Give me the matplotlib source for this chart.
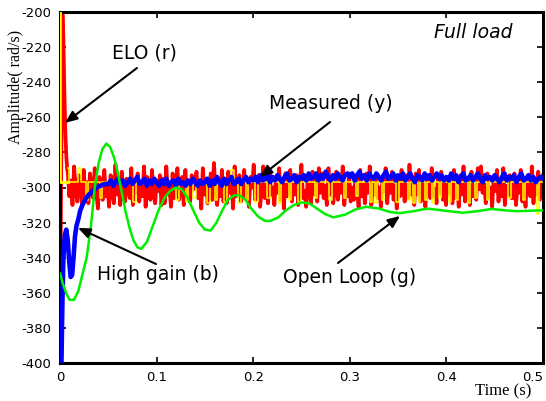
import numpy as np
import matplotlib
matplotlib.use("Agg")
import matplotlib.pyplot as plt

plt.rcParams['axes.unicode_minus'] = False

# ELO output (r): start transient, then noisy samples on a uniform grid
red_head_t = [0.0, 0.0008, 0.0025, 0.0035, 0.0045, 0.0055, 0.0065, 0.0075]
red_head_v = [-400, -320, -200, -215, -245, -268, -282, -290]
red_v = [
    -291, -305, -296, -310, -288, -302, -308, -293, -299, -311, -290, -304, -297, -309, -292, -301, -306, -289, -303, -312,
    -294, -300, -307, -290, -305, -298, -311, -293, -302, -309, -287, -304, -296, -310, -291, -303, -308, -295, -300, -306,
    -289, -310, -297, -303, -292, -308, -299, -305, -288, -311, -294, -301, -307, -290, -304, -309, -296, -302, -293, -310,
    -295, -309, -288, -304, -300, -311, -292, -306, -298, -289, -307, -302, -294, -310, -290, -305, -297, -308, -293, -301,
    -300, -291, -306, -298, -312, -289, -304, -295, -309, -301, -292, -307, -286, -303, -310, -297, -305, -290, -308, -299,
    -309, -291, -303, -297, -312, -288, -305, -299, -293, -308, -302, -290, -306, -296, -311, -294, -300, -287, -307, -303,
    -293, -311, -302, -288, -306, -296, -309, -291, -304, -300, -310, -294, -303, -289, -307, -298, -312, -292, -305, -301,
    -290, -308, -297, -304, -293, -310, -299, -287, -306, -302, -311, -295, -300, -309, -291, -304, -296, -308, -289, -303,
    -292, -306, -299, -310, -289, -304, -296, -309, -301, -291, -307, -295, -303, -288, -310, -298, -305, -292, -308, -300,
    -307, -294, -301, -311, -290, -305, -298, -309, -292, -303, -288, -310, -297, -304, -293, -306, -300, -311, -295, -302,
    -289, -309, -296, -303, -291, -307, -299, -312, -294, -305, -290, -301, -308, -293, -306, -287, -304, -298, -310, -292,
    -304, -290, -308, -296, -302, -311, -293, -299, -306, -289, -305, -301, -309, -294, -303, -291, -307, -297, -310, -295,
    -303, -297, -309, -290, -306, -300, -311, -293, -304, -288, -308, -295, -302, -310, -291, -305, -299, -307, -289, -301,
    -288, -303, -297, -309, -292, -306, -300, -311, -294, -302, -290, -308, -296, -305, -289, -310, -299, -304, -293, -306,
    -306, -292, -310, -298, -303, -290, -308, -296, -311, -294, -301, -305, -288, -309, -297, -304, -291, -307, -300, -293,
]

# reference (yellow): flat level with short pulses
yellow_head_t = [0.0, 0.0, 0.008]
yellow_head_v = [-200, -297, -297]
yellow_v = [
    -289, -297, -297, -297, -297, -289, -297, -297, -307, -297, -297, -297, -297, -297, -306, -297, -297, -297, -297, -297,
    -297, -297, -297, -297, -297, -297, -297, -297, -308, -297, -297, -297, -297, -297, -297, -297, -297, -297, -297, -297,
    -297, -297, -297, -297, -297, -297, -307, -297, -297, -297, -308, -297, -297, -306, -297, -297, -297, -297, -297, -309,
    -297, -297, -307, -297, -297, -297, -308, -297, -297, -290, -297, -297, -309, -297, -297, -307, -297, -297, -297, -308,
    -297, -297, -297, -297, -306, -297, -297, -297, -297, -309, -297, -297, -297, -307, -297, -297, -297, -308, -297, -297,
    -297, -297, -297, -297, -306, -297, -297, -297, -297, -297, -307, -297, -297, -297, -297, -297, -306, -297, -297, -297,
    -297, -305, -297, -297, -297, -297, -297, -308, -297, -309, -297, -297, -307, -297, -297, -297, -297, -297, -308, -297,
    -297, -297, -297, -307, -297, -309, -297, -308, -297, -297, -307, -297, -297, -309, -297, -297, -306, -297, -297, -297,
    -308, -297, -297, -307, -297, -297, -297, -297, -309, -297, -297, -306, -297, -297, -297, -297, -307, -297, -297, -297,
    -297, -297, -297, -297, -297, -306, -297, -297, -297, -297, -297, -307, -297, -297, -297, -297, -297, -315, -297, -297,
]

# measured with high gain (blue)
blue_head_t = [0.0, 0.0015, 0.0025, 0.0035, 0.005, 0.0065, 0.008, 0.0095, 0.011, 0.0125, 0.014, 0.0155,
               0.017, 0.019, 0.021, 0.024, 0.027, 0.030, 0.034, 0.038, 0.042, 0.046]
blue_head_v = [-400, -400, -365, -340, -327, -324, -330, -342, -351, -350, -340, -328,
               -322, -318, -313, -309, -306, -304, -302, -300, -299, -298]
blue_v = [
    -298, -296, -299, -297, -295, -298, -296, -299, -297, -295, -298, -296, -294, -298, -297, -295, -299, -296, -298, -295,
    -297, -299, -296, -298, -295, -299, -297, -296, -299, -295, -298, -297, -299, -296, -298, -295, -297, -299, -296, -298,
    -297, -295, -299, -296, -298, -294, -297, -299, -295, -298, -296, -294, -298, -297, -295, -298, -296, -294, -297, -295,
    -296, -294, -297, -293, -296, -295, -292, -297, -294, -296, -293, -295, -297, -294, -292, -296, -295, -293, -297, -294,
    -295, -293, -296, -292, -295, -294, -292, -296, -293, -295, -291, -294, -296, -293, -295, -292, -294, -296, -293, -292,
    -294, -292, -296, -293, -291, -295, -293, -296, -292, -294, -295, -292, -294, -296, -293, -291, -295, -294, -292, -296,
    -293, -295, -292, -296, -294, -292, -295, -297, -293, -294, -296, -292, -295, -293, -296, -294, -292, -295, -293, -296,
    -294, -296, -292, -295, -293, -297, -294, -292, -296, -295, -293, -296, -294, -292, -295, -297, -293, -295, -294, -296,
    -293, -295, -297, -294, -292, -296, -294, -295, -293, -297, -294, -292, -296, -295, -293, -296, -294, -297, -295, -294,
    -295,
]

# open loop (green)
green_t = [0.000, 0.003, 0.007, 0.010, 0.0145, 0.019, 0.023, 0.0276, 0.032, 0.036, 0.040, 0.044, 0.048,
           0.052, 0.056, 0.060, 0.064, 0.068, 0.072, 0.076, 0.080, 0.084, 0.090, 0.096, 0.102, 0.108,
           0.114, 0.120, 0.126, 0.132, 0.138, 0.144, 0.150, 0.156, 0.162, 0.168, 0.174, 0.180, 0.186,
           0.192, 0.198, 0.205, 0.212, 0.218, 0.226, 0.234, 0.242, 0.250, 0.258, 0.266, 0.274, 0.283,
           0.295, 0.306, 0.317, 0.330, 0.342, 0.352, 0.366, 0.380, 0.395, 0.417, 0.432, 0.447, 0.460,
           0.473, 0.500]
green_v = [-349, -355, -361, -364, -364, -359, -350, -340, -322, -300, -286, -278, -275,
           -277, -283, -292, -303, -314, -323, -330, -334, -335, -331, -322, -313, -306,
           -302, -300, -301, -306, -313, -320, -324, -324.5, -320, -313, -307, -304.5, -304.5,
           -307, -312, -316.5, -319, -319, -317, -313, -310, -308.5, -309, -312, -315, -317,
           -315.5, -312.5, -311, -312, -314, -314.6, -313.5, -312, -313, -314.4, -313.5, -312.2, -313,
           -313.5, -313]

x_ticks = [0, 0.1, 0.2, 0.3, 0.4, 0.5]
x_tick_labels = ['0', '0.1', '0.2', '0.3', '0.4', '0.5']
y_ticks = [-400, -380, -360, -340, -320, -300, -280, -260, -240, -220, -200]


def main():
    fig = plt.figure(figsize=(5.46, 4.01), dpi=100)
    ax = fig.add_axes([60 / 546, 38 / 401, 483 / 546, 351 / 401])

    t_red = np.linspace(0.008, 0.5, len(red_v))
    t_yel = np.linspace(0.008, 0.5, len(yellow_v))
    t_blue = np.linspace(0.05, 0.5, len(blue_v))

    ax.plot(red_head_t + list(t_red), red_head_v + red_v, color='#ff0000', lw=2.7, zorder=2)
    ax.plot(yellow_head_t, yellow_head_v, color='#ffff00', lw=2.0, zorder=3)
    ax.plot(t_yel, yellow_v, color='#ffff00', lw=1.1, drawstyle='steps-mid', zorder=3)
    ax.plot(blue_head_t + list(t_blue), blue_head_v + blue_v, color='#0000ff', lw=3.3, zorder=4)
    ax.plot(green_t, green_v, color='#00ee00', lw=1.8, zorder=5)

    ax.set_xlim(0, 0.5)
    ax.set_ylim(-400, -200)
    ax.set_xticks(x_ticks)
    ax.set_xticklabels(x_tick_labels)
    ax.set_yticks(y_ticks)
    ax.tick_params(direction='in', length=4, width=1.2, top=True, right=True,
                   labelsize=9.5, pad=6)
    ax.get_xticklabels()[-1].set_horizontalalignment('right')
    for s in ax.spines.values():
        s.set_linewidth(2.2)

    ax.set_ylabel('Amplitude( rad/s)', family='Liberation Serif', fontsize=11.5,
                  ha='center', va='center')
    ax.yaxis.set_label_coords(-0.091, 0.786)
    ax.set_xlabel('Time (s)', family='Liberation Serif', fontsize=12,
                  ha='center', va='center')
    ax.xaxis.set_label_coords(0.917, -0.08)

    arrow = dict(arrowstyle='-|>,head_length=0.6,head_width=0.25', color='k',
                 lw=1.5, mutation_scale=12, shrinkA=0, shrinkB=0)
    notes = [
        ('ELO (r)', (0.087, -223.4), (0.0797, -231.9), (0.0052, -263.2)),
        ('Measured (y)', (0.2805, -251.9), (0.2795, -262.7), (0.207, -294.0)),
        ('High gain (b)', (0.1014, -349.3), (0.0994, -343.6), (0.0186, -323.0)),
        ('Open Loop (g)', (0.300, -351.0), (0.2878, -343.0), (0.352, -316.2)),
    ]
    for label, pos, tail, head in notes:
        ax.annotate('', xy=head, xytext=tail, arrowprops=arrow, zorder=6)
        ax.text(pos[0], pos[1], label, fontsize=13.5, ha='center', va='center', zorder=6)

    ax.text(0.4275, -211.4, 'Full load', fontsize=13.5, style='italic',
            ha='center', va='center')

    fig.savefig('out.png', dpi=100)


if __name__ == '__main__':
    main()
